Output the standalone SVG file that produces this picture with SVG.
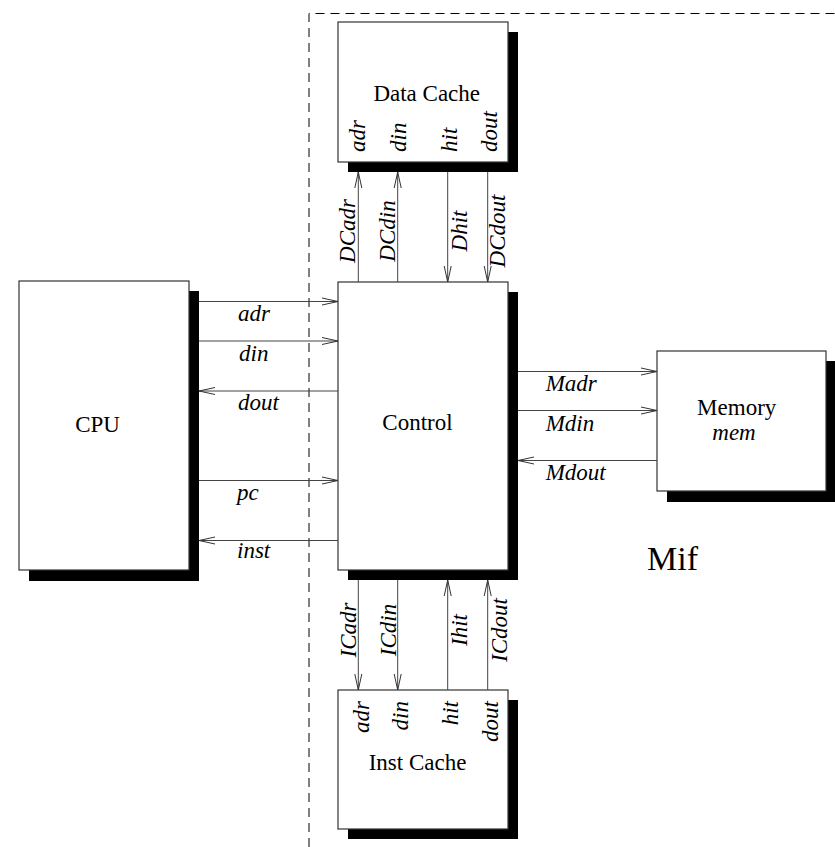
<svg xmlns="http://www.w3.org/2000/svg" width="835" height="847" viewBox="0 0 835 847">
<defs>
<marker id="ah" markerUnits="userSpaceOnUse" markerWidth="18" markerHeight="9" refX="16" refY="4" orient="auto" overflow="visible">
<path d="M0,0.5 L16,4 L0,7.5" fill="none" stroke="#333" stroke-width="1"/>
</marker>
<style>
.box{fill:#fff;stroke:#333;stroke-width:1.2}
.sh{fill:#000}
.t{font-family:"Liberation Serif","Times New Roman",serif;font-size:23px;fill:#000}
.i{font-style:italic}
.c{text-anchor:middle}
.e{text-anchor:end}
.w{stroke:#444;stroke-width:1;fill:none;marker-end:url(#ah)}
</style>
</defs>
<rect width="835" height="847" fill="#fff"/>
<path d="M309,847 L309,13.5 L835,13.5" fill="none" stroke="#000" stroke-width="1" stroke-dasharray="9 6"/>
<g id="cpu">
<rect class="sh" x="29" y="291" width="170" height="290"/>
<rect class="box" x="19" y="281" width="170" height="289"/>
<text class="t c" x="97.5" y="432">CPU</text>
</g>
<g id="control">
<rect class="sh" x="348" y="292" width="170" height="288"/>
<rect class="box" x="338" y="282" width="170" height="288"/>
<text class="t c" x="417.5" y="430">Control</text>
</g>
<g id="datacache">
<rect class="sh" x="348" y="32" width="170" height="140"/>
<rect class="box" x="338" y="22" width="170" height="140"/>
<text class="t c" x="426.7" y="101">Data Cache</text>
<text class="t i" transform="translate(365,152) rotate(-90)">adr</text>
<text class="t i" transform="translate(406,152) rotate(-90)">din</text>
<text class="t i" transform="translate(457,152) rotate(-90)">hit</text>
<text class="t i" transform="translate(497,152) rotate(-90)">dout</text>
</g>
<g id="instcache">
<rect class="sh" x="348" y="700" width="170" height="139"/>
<rect class="box" x="338" y="690" width="170" height="139"/>
<text class="t c" x="417.5" y="770">Inst Cache</text>
<text class="t i e" transform="translate(369,701) rotate(-90)">adr</text>
<text class="t i e" transform="translate(408,701) rotate(-90)">din</text>
<text class="t i e" transform="translate(458,701) rotate(-90)">hit</text>
<text class="t i e" transform="translate(498,701) rotate(-90)">dout</text>
</g>
<g id="memory">
<rect class="sh" x="667" y="361" width="170" height="141"/>
<rect class="box" x="657" y="351" width="169" height="140"/>
<text class="t c" x="736.7" y="415">Memory</text>
<text class="t i c" x="734" y="440">mem</text>
</g>
<g id="mif">
<text class="t" x="647" y="570" style="font-size:34px">Mif</text>
</g>
<g id="connectors">
<line class="w" x1="199" y1="301.5" x2="338" y2="301.5"/>
<line class="w" x1="199" y1="341" x2="338" y2="341"/>
<line class="w" x1="338" y1="391" x2="199" y2="391"/>
<line class="w" x1="199" y1="480.5" x2="338" y2="480.5"/>
<line class="w" x1="338" y1="540.5" x2="199" y2="540.5"/>
<text class="t i" x="238" y="320.5">adr</text>
<text class="t i" x="239" y="360.5">din</text>
<text class="t i" x="238" y="410">dout</text>
<text class="t i" x="237" y="500">pc</text>
<text class="t i" x="237" y="558">inst</text>
<line class="w" x1="518" y1="371.5" x2="657" y2="371.5"/>
<line class="w" x1="518" y1="410.5" x2="657" y2="410.5"/>
<line class="w" x1="657" y1="460.5" x2="518" y2="460.5"/>
<text class="t i" x="545.7" y="390.5">Madr</text>
<text class="t i" x="545.7" y="430.5">Mdin</text>
<text class="t i" x="545.7" y="480">Mdout</text>
<line class="w" x1="358.3" y1="282" x2="358.3" y2="172"/>
<line class="w" x1="397.7" y1="282" x2="397.7" y2="172"/>
<line class="w" x1="447.7" y1="172" x2="447.7" y2="282"/>
<line class="w" x1="487.7" y1="172" x2="487.7" y2="282"/>
<text class="t i c" transform="translate(355,231) rotate(-90)">DCadr</text>
<text class="t i c" transform="translate(395,231) rotate(-90)">DCdin</text>
<text class="t i c" transform="translate(467,231) rotate(-90)">Dhit</text>
<text class="t i c" transform="translate(505,231) rotate(-90)">DCdout</text>
<line class="w" x1="358.3" y1="580" x2="358.3" y2="690"/>
<line class="w" x1="397.7" y1="580" x2="397.7" y2="690"/>
<line class="w" x1="447.7" y1="690" x2="447.7" y2="580"/>
<line class="w" x1="487.7" y1="690" x2="487.7" y2="580"/>
<text class="t i c" transform="translate(356,630) rotate(-90)">ICadr</text>
<text class="t i c" transform="translate(396,630) rotate(-90)">ICdin</text>
<text class="t i c" transform="translate(467,630) rotate(-90)">Ihit</text>
<text class="t i c" transform="translate(507,630) rotate(-90)">ICdout</text>
</g>
</svg>
